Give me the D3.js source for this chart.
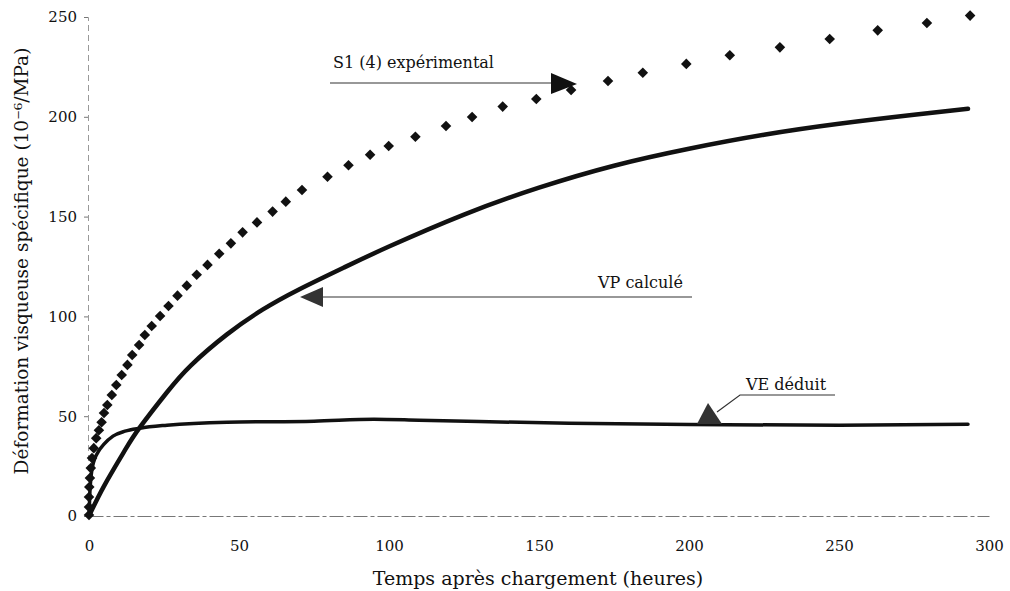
<!DOCTYPE html>
<html>
<head>
<meta charset="utf-8">
<script src="https://cdn.jsdelivr.net/npm/d3@7"></script>
<style>
  html, body { margin: 0; padding: 0; background: #fff; }
  svg { display: block; }
  text { font-family: "DejaVu Serif", "Liberation Serif", serif; fill: #111; }
</style>
</head>
<body>
<svg id="chart" width="1010" height="591"></svg>
<script>
// ---- data ----
const xTicks = [0, 50, 100, 150, 200, 250, 300];
const yTicks = [0, 50, 100, 150, 200, 250];

// S1 (4) expérimental (points)
const expTime = [0, 0, 0, 0.1, 0.3, 0.6, 1.0, 1.6, 2.4, 3.3, 4.2, 5.0, 6.1, 7.6, 9.1, 10.9, 12.8, 14.4, 16.7, 18.6,
  20.9, 23.7, 26.5, 29.5, 32.6, 35.9, 39.5, 43.4, 47.3, 51.2, 56.0, 61.2, 65.6, 71.0, 79.5, 86.5, 93.7, 99.9,
  108.8, 119.0, 127.7, 137.9, 149.1, 160.7, 173.0, 184.6, 199.1, 213.6, 230.3, 246.9, 262.9, 279.3, 293.7];
const expValue = [0.5, 4.5, 9.5, 14.5, 19, 24, 29, 34, 39, 43, 47, 51.6, 55.6, 60.6, 65.6, 70.6, 75.7, 80.7, 85.7, 90.7,
  95.2, 100.2, 105.2, 110.4, 115.4, 120.9, 125.8, 131.4, 136.6, 142.1, 147.1, 152.5, 157.5, 163.3, 170, 175.7, 181, 185.4,
  190, 195.4, 199.9, 205.1, 208.9, 213.4, 217.9, 222.1, 226.5, 230.8, 234.8, 239, 243.3, 247, 250.7];

// VP calculé (line)
const vpTime = [0, 5, 12, 17, 26, 34, 46, 58, 70, 85, 100, 125, 150, 175, 200, 225, 250, 275, 293];
const vpValue = [0, 15, 33, 44.5, 62, 75.5, 91, 103.5, 113.5, 124.5, 135, 151, 164.5, 175.5, 184, 191, 196.5, 201, 204];

// VE déduit (line)
const veTime = [0, 0.3, 0.7, 1.2, 2, 3, 5, 8, 12, 17, 26, 46, 75, 95, 110, 130, 160, 200, 250, 293];
const veValue = [0, 12, 20, 25, 29, 32, 36, 40, 42.5, 44, 45.5, 47, 47.5, 48.5, 48, 47.3, 46.5, 45.8, 45.5, 46];

const labels = {
  x: "Temps après chargement (heures)",
  y: "Déformation visqueuse spécifique (10\u207B\u2076/MPa)",
  exp: "S1 (4) expérimental",
  vp: "VP calculé",
  ve: "VE déduit"
};

// ---- scales ----
const svg = d3.select("#chart");
const x = d3.scaleLinear().domain([0, 300]).range([89, 989]);
const y = d3.scaleLinear().domain([0, 250]).range([516, 17]);

const ink = "#111";

// ---- axes ----
const yAxis = svg.append("g").attr("transform", `translate(${x(0) - 1},0)`)
  .call(d3.axisLeft(y).tickValues(yTicks).tickSize(4).tickPadding(7));
yAxis.select(".domain").attr("stroke", "#999").attr("stroke-dasharray", "6,4").attr("stroke-width", 1);
yAxis.selectAll(".tick line").attr("stroke", "#777");
yAxis.selectAll("text").style("font-size", "15px").style("font-family", "DejaVu Serif, serif").attr("fill", ink);

const xAxis = svg.append("g").attr("transform", `translate(0,${y(0)})`)
  .call(d3.axisBottom(x).tickValues(xTicks).tickSize(0).tickPadding(24));
xAxis.select(".domain").attr("stroke", "#777").attr("stroke-dasharray", "14,3,4,3").attr("stroke-width", 1);
xAxis.selectAll("text").style("font-size", "15px").style("font-family", "DejaVu Serif, serif").attr("fill", ink);

svg.append("text").attr("x", 538).attr("y", 585).attr("text-anchor", "middle")
  .style("font-size", "19px").text(labels.x);
svg.append("text").attr("transform", "translate(28,261) rotate(-90)").attr("text-anchor", "middle")
  .style("font-size", "18.5px").text(labels.y);

// ---- lines ----
const lineVE = d3.line().x(d => x(d[0])).y(d => y(d[1])).curve(d3.curveMonotoneX);
const lineVP = d3.line().x(d => x(d[0])).y(d => y(d[1])).curve(d3.curveNatural);
svg.append("path").datum(d3.zip(veTime, veValue)).attr("d", lineVE)
  .attr("fill", "none").attr("stroke", ink).attr("stroke-width", 3.5).attr("stroke-linecap", "round");
svg.append("path").datum(d3.zip(vpTime, vpValue)).attr("d", lineVP)
  .attr("fill", "none").attr("stroke", ink).attr("stroke-width", 4.5).attr("stroke-linecap", "round");

// ---- points ----
const diamond = d3.symbol().type(d3.symbolSquare).size(56)();
svg.append("g").selectAll("path").data(d3.zip(expTime, expValue)).join("path")
  .attr("d", diamond)
  .attr("transform", d => `translate(${x(d[0])},${y(d[1])}) rotate(45)`)
  .attr("fill", ink);

// ---- annotations ----
const ann = svg.append("g");
// S1 (4) expérimental
ann.append("text").attr("x", 333).attr("y", 68).style("font-size", "16px").text(labels.exp);
ann.append("line").attr("x1", 330).attr("y1", 83).attr("x2", 556).attr("y2", 83)
  .attr("stroke", "#333").attr("stroke-width", 1.2);
ann.append("path").attr("d", "M551,73 L577,84 L551,94 Z").attr("fill", ink);

// VP calculé
ann.append("text").attr("x", 598).attr("y", 288).style("font-size", "16px").text(labels.vp);
ann.append("line").attr("x1", 320).attr("y1", 297).attr("x2", 692).attr("y2", 297)
  .attr("stroke", "#333").attr("stroke-width", 1.2);
ann.append("path").attr("d", "M300,297 L323,287 L323,307 Z").attr("fill", "#333");

// VE déduit
ann.append("text").attr("x", 746).attr("y", 390).style("font-size", "16px").text(labels.ve);
ann.append("polyline").attr("points", "717,412 740,395 835,395")
  .attr("fill", "none").attr("stroke", "#333").attr("stroke-width", 1.2);
ann.append("path").attr("d", "M708,403 L697,424 L722,424 Z").attr("fill", "#333");
</script>
</body>
</html>
